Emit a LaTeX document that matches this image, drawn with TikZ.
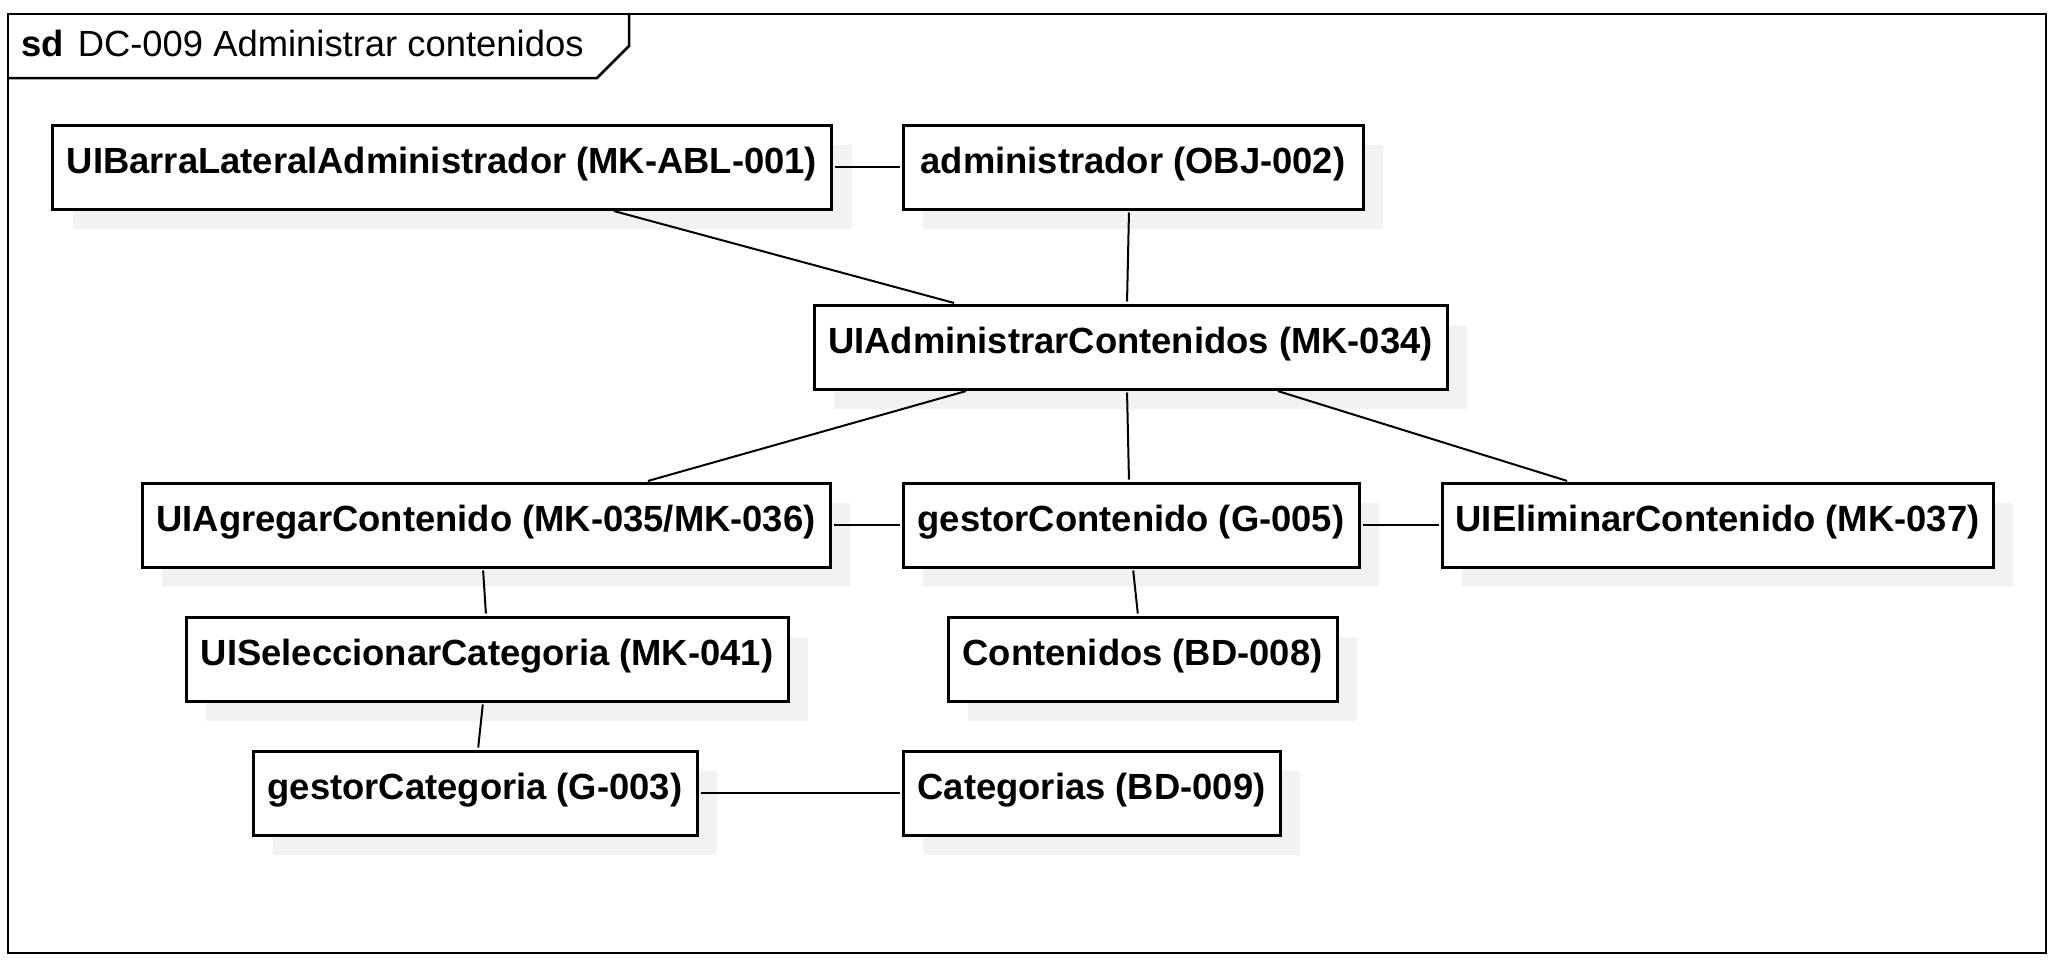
\documentclass[tikz,border=0pt]{standalone}
\usepackage{fontspec}
\setmainfont{Liberation Sans}
\usetikzlibrary{shadows}
\tikzset{
  obj/.style={draw,line width=3pt,fill=white,minimum height=84pt,inner sep=0pt,
    text height=27pt,text depth=14pt,
    font=\bfseries\fontsize{36.4}{43}\selectfont,
    copy shadow={shadow xshift=20pt,shadow yshift=-20pt,fill=black!5,draw=none}},
  link/.style={line width=2pt,shorten <=2pt,shorten >=2pt}
}
\begin{document}
\begin{tikzpicture}[x=1pt,y=-1pt]
\useasboundingbox (0,0) rectangle (2059,964);
%% frame with its name tab
\draw[line width=2.5pt] (8,14) rectangle (2046,953);
\draw[line width=2.5pt] (8,78)--(597,78)--(629,46)--(629,14);
\node[anchor=base west,inner sep=0pt,font=\fontsize{36.4}{43}\selectfont] (titulo) at (21,56){\textbf{sd}\hspace{4pt} DC-009 Administrar contenidos};
%% objects placed by hand
\node[obj,minimum width=779pt] (barra) at (442,167){UIBarraLateralAdministrador (MK-ABL-001)};
\node[obj,minimum width=460pt] (admin) at (1133,167){administrador (OBJ-002)};
\node[obj,minimum width=633pt] (uiadmin) at (1130.5,347){UIAdministrarContenidos (MK-034)};
\node[obj,minimum width=688pt] (agregar) at (486,525){UIAgregarContenido (MK-035/MK-036)};
\node[obj,minimum width=456pt] (gestorc) at (1131,525){gestorContenido (G-005)};
\node[obj,minimum width=551pt] (eliminar) at (1717.5,525){UIEliminarContenido (MK-037)};
\node[obj,minimum width=602pt] (selcat) at (487,659){UISeleccionarCategoria (MK-041)};
\node[obj,minimum width=389pt] (contenidos) at (1142.5,659){Contenidos (BD-008)};
\node[obj,minimum width=444pt] (gestorcat) at (475,793){gestorCategoria (G-003)};
\node[obj,minimum width=377pt] (categorias) at (1091.5,793){Categorias (BD-009)};
%% links
\draw[link] (barra.east)--(admin.west);
\draw[link] ([xshift=170pt]barra.south)--([xshift=-174.5pt]uiadmin.north);
\draw[link] ([xshift=-4pt]admin.south)--([xshift=-3.5pt]uiadmin.north);
\draw[link] ([xshift=-162.5pt]uiadmin.south)--([xshift=160pt]agregar.north);
\draw[link] ([xshift=-3.5pt]uiadmin.south)--([xshift=-2pt]gestorc.north);
\draw[link] ([xshift=145.5pt]uiadmin.south)--([xshift=-148.5pt]eliminar.north);
\draw[link] (agregar.east)--(gestorc.west);
\draw[link] (gestorc.east)--(eliminar.west);
\draw[link] ([xshift=-3pt]agregar.south)--([xshift=-1pt]selcat.north);
\draw[link] ([xshift=2pt]gestorc.south)--([xshift=-4.5pt]contenidos.north);
\draw[link] ([xshift=-4pt]selcat.south)--([xshift=3pt]gestorcat.north);
\draw[link] (gestorcat.east)--(categorias.west);
\end{tikzpicture}
\end{document}
